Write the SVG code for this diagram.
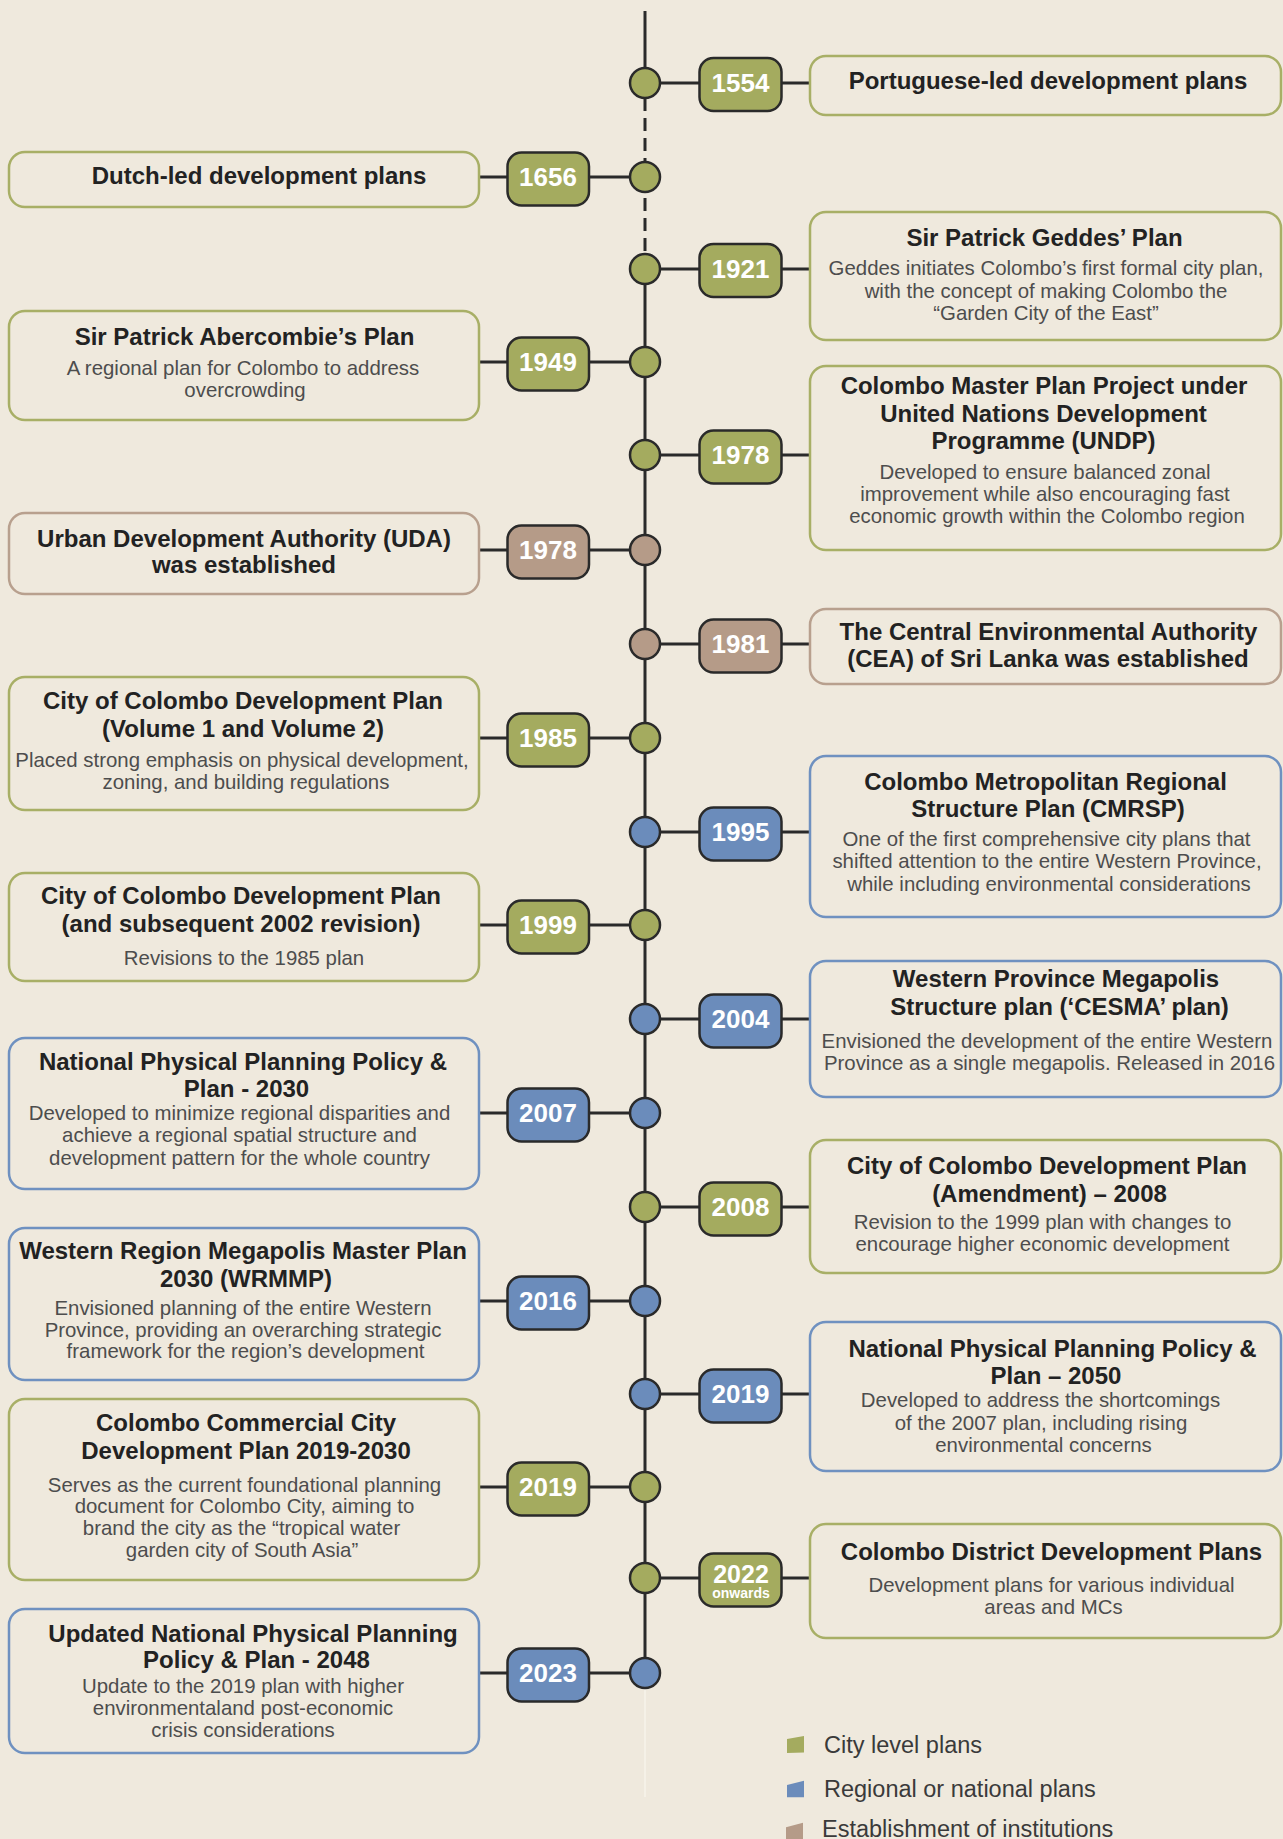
<svg xmlns="http://www.w3.org/2000/svg" width="1283" height="1839" viewBox="0 0 1283 1839">
<style>
.ln{stroke:#2a2a2a;stroke-width:3;fill:none}
.dash{stroke-dasharray:13 7}
.faint{stroke:#f7f3ea;stroke-width:1.5;fill:none}
.box{fill:#efe9dd;stroke-width:2.5}
.badge{stroke:#2a2a2a;stroke-width:2.5}
.dot{stroke:#2a2a2a;stroke-width:2.5}
.g .box{stroke:#a8af66}.g .badge,.g .dot{fill:#a4ab5f}
.b .box{stroke:#6f91c0}.b .badge,.b .dot{fill:#6b8cbb}
.r .box{stroke:#b8a08e}.r .badge,.r .dot{fill:#b59b88}
text{font-family:"Liberation Sans",Arial,sans-serif;text-anchor:middle}
.t{font-size:24px;font-weight:bold;fill:#222}
.d{font-size:20.4px;fill:#4d4d4d}
.y{font-size:26px;font-weight:bold;fill:#fff}
.on{font-size:14px;font-weight:bold;fill:#fff}
.lg{font-size:23.5px;fill:#3a3a3a;text-anchor:start}
</style>
<rect width="1283" height="1839" fill="#efe9dd"/>
<g id="connectors">
<path class="ln" d="M645 11V98"/>
<path class="ln dash" d="M645 98V254"/>
<path class="ln" d="M645 254V1688"/>
<path class="faint" d="M645 1689V1797"/>
<path class="ln" d="M660 83H699.5M781.5 83H810"/>
<path class="ln" d="M479 177H507.5M589 177H630"/>
<path class="ln" d="M660 269H699.5M781.5 269H810"/>
<path class="ln" d="M479 362H507.5M589 362H630"/>
<path class="ln" d="M660 455H699.5M781.5 455H810"/>
<path class="ln" d="M479 550H507.5M589 550H630"/>
<path class="ln" d="M660 644H699.5M781.5 644H810"/>
<path class="ln" d="M479 738H507.5M589 738H630"/>
<path class="ln" d="M660 832H699.5M781.5 832H810"/>
<path class="ln" d="M479 925H507.5M589 925H630"/>
<path class="ln" d="M660 1019H699.5M781.5 1019H810"/>
<path class="ln" d="M479 1113H507.5M589 1113H630"/>
<path class="ln" d="M660 1207H699.5M781.5 1207H810"/>
<path class="ln" d="M479 1301H507.5M589 1301H630"/>
<path class="ln" d="M660 1394H699.5M781.5 1394H810"/>
<path class="ln" d="M479 1487H507.5M589 1487H630"/>
<path class="ln" d="M660 1578H699.5M781.5 1578H810"/>
<path class="ln" d="M479 1673H507.5M589 1673H630"/>
</g>

<g id="n1554" class="g">
<circle class="dot" cx="645" cy="83" r="15"/>
<rect class="badge" x="699.5" y="58" width="82" height="53" rx="14"/>
<text class="y" x="740.5" y="92">1554</text>
<rect class="box" x="810" y="56" width="471" height="59" rx="16"/>
<text class="t" x="1048" y="89">Portuguese-led development plans</text>
</g>

<g id="n1656" class="g">
<circle class="dot" cx="645" cy="177" r="15"/>
<rect class="badge" x="507.5" y="152.5" width="81.5" height="53" rx="14"/>
<text class="y" x="548" y="186">1656</text>
<rect class="box" x="9" y="152" width="470" height="55" rx="16"/>
<text class="t" x="259" y="184">Dutch-led development plans</text>
</g>

<g id="n1921" class="g">
<circle class="dot" cx="645" cy="269" r="15"/>
<rect class="badge" x="699.5" y="244" width="82" height="53" rx="14"/>
<text class="y" x="740.5" y="278">1921</text>
<rect class="box" x="810" y="212" width="471" height="128" rx="16"/>
<text class="t" x="1044.5" y="246">Sir Patrick Geddes’ Plan</text>
<text class="d" x="1046" y="275">Geddes initiates Colombo’s first formal city plan,</text>
<text class="d" x="1046" y="297.5">with the concept of making Colombo the</text>
<text class="d" x="1046" y="319.5">“Garden City of the East”</text>
</g>

<g id="n1949" class="g">
<circle class="dot" cx="645" cy="362" r="15"/>
<rect class="badge" x="507.5" y="337.5" width="81.5" height="53" rx="14"/>
<text class="y" x="548" y="371">1949</text>
<rect class="box" x="9" y="311" width="470" height="109" rx="16"/>
<text class="t" x="244.5" y="345">Sir Patrick Abercombie’s Plan</text>
<text class="d" x="243" y="375">A regional plan for Colombo to address</text>
<text class="d" x="245" y="396.5">overcrowding</text>
</g>

<g id="n1978a" class="g">
<circle class="dot" cx="645" cy="455" r="15"/>
<rect class="badge" x="699.5" y="430.5" width="82" height="53" rx="14"/>
<text class="y" x="740.5" y="464">1978</text>
<rect class="box" x="810" y="366" width="471" height="184" rx="16"/>
<text class="t" x="1044" y="394.3">Colombo Master Plan Project under</text>
<text class="t" x="1043.5" y="422">United Nations Development</text>
<text class="t" x="1043.5" y="449.3">Programme (UNDP)</text>
<text class="d" x="1045" y="479">Developed to ensure balanced zonal</text>
<text class="d" x="1045" y="501">improvement while also encouraging fast</text>
<text class="d" x="1047" y="522.7">economic growth within the Colombo region</text>
</g>

<g id="n1978b" class="r">
<circle class="dot" cx="645" cy="550" r="15"/>
<rect class="badge" x="507.5" y="525.5" width="81.5" height="53" rx="14"/>
<text class="y" x="548" y="559">1978</text>
<rect class="box" x="9" y="513" width="470" height="81" rx="16"/>
<text class="t" x="244" y="546.7">Urban Development Authority (UDA)</text>
<text class="t" x="244" y="573.3">was established</text>
</g>

<g id="n1981" class="r">
<circle class="dot" cx="645" cy="644" r="15"/>
<rect class="badge" x="699.5" y="619.5" width="82" height="53" rx="14"/>
<text class="y" x="740.5" y="653">1981</text>
<rect class="box" x="810" y="609" width="471" height="75" rx="16"/>
<text class="t" x="1048.5" y="640">The Central Environmental Authority</text>
<text class="t" x="1048" y="667.3">(CEA) of Sri Lanka was established</text>
</g>

<g id="n1985" class="g">
<circle class="dot" cx="645" cy="738" r="15"/>
<rect class="badge" x="507.5" y="713.5" width="81.5" height="53" rx="14"/>
<text class="y" x="548" y="747">1985</text>
<rect class="box" x="9" y="677" width="470" height="133" rx="16"/>
<text class="t" x="243" y="709.3">City of Colombo Development Plan</text>
<text class="t" x="243" y="737.3">(Volume 1 and Volume 2)</text>
<text class="d" x="242" y="767.3">Placed strong emphasis on physical development,</text>
<text class="d" x="246" y="788.7">zoning, and building regulations</text>
</g>

<g id="n1995" class="b">
<circle class="dot" cx="645" cy="832" r="15"/>
<rect class="badge" x="699.5" y="807.5" width="82" height="53" rx="14"/>
<text class="y" x="740.5" y="841">1995</text>
<rect class="box" x="810" y="756" width="471" height="161" rx="16"/>
<text class="t" x="1045.5" y="790">Colombo Metropolitan Regional</text>
<text class="t" x="1048" y="817.3">Structure Plan (CMRSP)</text>
<text class="d" x="1046.5" y="845.7">One of the first comprehensive city plans that</text>
<text class="d" x="1047" y="868.3">shifted attention to the entire Western Province,</text>
<text class="d" x="1049" y="890.7">while including environmental considerations</text>
</g>

<g id="n1999" class="g">
<circle class="dot" cx="645" cy="925" r="15"/>
<rect class="badge" x="507.5" y="900.5" width="81.5" height="53" rx="14"/>
<text class="y" x="548" y="934">1999</text>
<rect class="box" x="9" y="873" width="470" height="108" rx="16"/>
<text class="t" x="241" y="904">City of Colombo Development Plan</text>
<text class="t" x="241" y="931.7">(and subsequent 2002 revision)</text>
<text class="d" x="244" y="965">Revisions to the 1985 plan</text>
</g>

<g id="n2004" class="b">
<circle class="dot" cx="645" cy="1019" r="15"/>
<rect class="badge" x="699.5" y="994.5" width="82" height="53" rx="14"/>
<text class="y" x="740.5" y="1028">2004</text>
<rect class="box" x="810" y="961" width="471" height="136" rx="16"/>
<text class="t" x="1056" y="987.3">Western Province Megapolis</text>
<text class="t" x="1059.5" y="1015">Structure plan (‘CESMA’ plan)</text>
<text class="d" x="1047" y="1048.3">Envisioned the development of the entire Western</text>
<text class="d" x="1049.5" y="1070">Province as a single megapolis. Released in 2016</text>
</g>

<g id="n2007" class="b">
<circle class="dot" cx="645" cy="1113" r="15"/>
<rect class="badge" x="507.5" y="1088.5" width="81.5" height="53" rx="14"/>
<text class="y" x="548" y="1122">2007</text>
<rect class="box" x="9" y="1038" width="470" height="151" rx="16"/>
<text class="t" x="243" y="1070">National Physical Planning Policy &amp;</text>
<text class="t" x="246.5" y="1096.7">Plan - 2030</text>
<text class="d" x="239.5" y="1120">Developed to minimize regional disparities and</text>
<text class="d" x="239.5" y="1142.3">achieve a regional spatial structure and</text>
<text class="d" x="239.5" y="1165">development pattern for the whole country</text>
</g>

<g id="n2008" class="g">
<circle class="dot" cx="645" cy="1207" r="15"/>
<rect class="badge" x="699.5" y="1182.5" width="82" height="53" rx="14"/>
<text class="y" x="740.5" y="1216">2008</text>
<rect class="box" x="810" y="1140" width="471" height="133" rx="16"/>
<text class="t" x="1047" y="1174">City of Colombo Development Plan</text>
<text class="t" x="1049.5" y="1201.7">(Amendment) – 2008</text>
<text class="d" x="1042.5" y="1229.3">Revision to the 1999 plan with changes to</text>
<text class="d" x="1042.5" y="1250.7">encourage higher economic development</text>
</g>

<g id="n2016" class="b">
<circle class="dot" cx="645" cy="1301" r="15"/>
<rect class="badge" x="507.5" y="1276.5" width="81.5" height="53" rx="14"/>
<text class="y" x="548" y="1310">2016</text>
<rect class="box" x="9" y="1228" width="470" height="152" rx="16"/>
<text class="t" x="243" y="1259.3">Western Region Megapolis Master Plan</text>
<text class="t" x="246" y="1287.3">2030 (WRMMP)</text>
<text class="d" x="243" y="1315">Envisioned planning of the entire Western</text>
<text class="d" x="243" y="1336.7">Province, providing an overarching strategic</text>
<text class="d" x="245.5" y="1358.3">framework for the region’s development</text>
</g>

<g id="n2019a" class="b">
<circle class="dot" cx="645" cy="1394" r="15"/>
<rect class="badge" x="699.5" y="1369.5" width="82" height="53" rx="14"/>
<text class="y" x="740.5" y="1403">2019</text>
<rect class="box" x="810" y="1322" width="471" height="149" rx="16"/>
<text class="t" x="1052.5" y="1357.3">National Physical Planning Policy &amp;</text>
<text class="t" x="1056" y="1384.3">Plan – 2050</text>
<text class="d" x="1040.5" y="1407.3">Developed to address the shortcomings</text>
<text class="d" x="1041" y="1430">of the 2007 plan, including rising</text>
<text class="d" x="1043.5" y="1452.3">environmental concerns</text>
</g>

<g id="n2019b" class="g">
<circle class="dot" cx="645" cy="1487" r="15"/>
<rect class="badge" x="507.5" y="1462.5" width="81.5" height="53" rx="14"/>
<text class="y" x="548" y="1496">2019</text>
<rect class="box" x="9" y="1399" width="470" height="181" rx="16"/>
<text class="t" x="246" y="1431">Colombo Commercial City</text>
<text class="t" x="246" y="1458.7">Development Plan 2019-2030</text>
<text class="d" x="244.5" y="1491.7">Serves as the current foundational planning</text>
<text class="d" x="244.5" y="1513.3">document for Colombo City, aiming to</text>
<text class="d" x="241.5" y="1535">brand the city as the “tropical water</text>
<text class="d" x="242" y="1556.7">garden city of South Asia”</text>
</g>

<g id="n2022" class="g">
<circle class="dot" cx="645" cy="1578" r="15"/>
<rect class="badge" x="699.5" y="1553.5" width="82" height="53" rx="14"/>
<text class="y" x="741" y="1583" style="font-size:25px">2022</text>
<text class="on" x="741" y="1598">onwards</text>
<rect class="box" x="810" y="1524" width="471" height="114" rx="16"/>
<text class="t" x="1051.5" y="1560">Colombo District Development Plans</text>
<text class="d" x="1051.5" y="1592.3">Development plans for various individual</text>
<text class="d" x="1053.5" y="1614">areas and MCs</text>
</g>

<g id="n2023" class="b">
<circle class="dot" cx="645" cy="1673" r="15"/>
<rect class="badge" x="507.5" y="1648.5" width="81.5" height="53" rx="14"/>
<text class="y" x="548" y="1682">2023</text>
<rect class="box" x="9" y="1609" width="470" height="144" rx="16"/>
<text class="t" x="253" y="1641.7">Updated National Physical Planning</text>
<text class="t" x="256.5" y="1668.3">Policy &amp; Plan - 2048</text>
<text class="d" x="243" y="1693.3">Update to the 2019 plan with higher</text>
<text class="d" x="243" y="1715">environmentaland post-economic</text>
<text class="d" x="243" y="1736.7">crisis considerations</text>
</g>

<g id="legend">
<polygon points="787,1739 804,1736 804,1752.5 787,1753" fill="#a4ab5f"/>
<text class="lg" x="824" y="1752.7">City level plans</text>
<polygon points="787,1785 804,1780.7 804,1797.3 787,1797.3" fill="#6b8cbb"/>
<text class="lg" x="824" y="1797.3">Regional or national plans</text>
<polygon points="786,1827.3 803,1822.7 803,1845 786,1845" fill="#b59b88"/>
<text class="lg" x="822" y="1836.7">Establishment of institutions</text>
</g>
</svg>
